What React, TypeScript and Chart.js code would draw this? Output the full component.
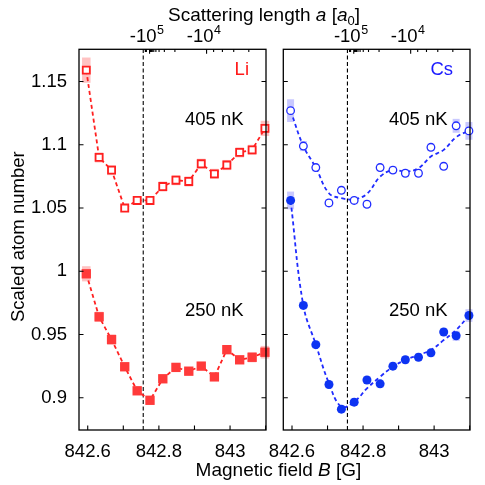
import React, { useEffect, useRef } from "react";
import { Chart, registerables } from "chart.js";

Chart.register(...registerables);

// ---------------- data ----------------
const fieldB = [842.596, 842.632, 842.667, 842.704, 842.739, 842.775, 842.811, 842.848, 842.884, 842.919, 842.956, 842.991, 843.027, 843.062, 843.098];

const li405 = [1.159, 1.090, 1.080, 1.050, 1.056, 1.056, 1.067, 1.072, 1.071, 1.085, 1.077, 1.084, 1.094, 1.096, 1.113];
const li405Err = [0.010, 0.004, 0.004, 0.003, 0.003, 0.003, 0.004, 0.004, 0.004, 0.004, 0.004, 0.004, 0.004, 0.004, 0.006];
const li250 = [0.998, 0.964, 0.946, 0.9245, 0.9055, 0.898, 0.915, 0.924, 0.921, 0.925, 0.9165, 0.938, 0.930, 0.932, 0.936];
const li250Err = [0.006, 0.004, 0.004, 0.003, 0.003, 0.003, 0.003, 0.003, 0.003, 0.003, 0.003, 0.003, 0.003, 0.004, 0.005];

const cs405 = [1.127, 1.099, 1.082, 1.054, 1.064, 1.056, 1.053, 1.082, 1.080, 1.0775, 1.0775, 1.098, 1.083, 1.115, 1.111];
const cs405Err = [0.009, 0.004, 0.003, 0.003, 0.003, 0.003, 0.003, 0.003, 0.003, 0.003, 0.003, 0.003, 0.003, 0.0055, 0.007];
const cs250 = [1.056, 0.973, 0.942, 0.9105, 0.891, 0.8965, 0.914, 0.911, 0.925, 0.930, 0.932, 0.9355, 0.952, 0.949, 0.965];
const cs250Err = [0.007, 0.003, 0.003, 0.003, 0.003, 0.003, 0.003, 0.003, 0.003, 0.003, 0.003, 0.003, 0.003, 0.004, 0.005];

const cs405Fit = [1.127, 1.099, 1.082, 1.0617, 1.0578, 1.057, 1.0612, 1.0748, 1.0801, 1.0788, 1.0815, 1.0907, 1.096, 1.106, 1.1112];
const cs250Fit = [1.056, 0.9728, 0.9422, 0.9114, 0.8929, 0.8968, 0.9074, 0.9166, 0.9245, 0.9298, 0.9338, 0.9377, 0.9456, 0.9536, 0.9649];

const yTickValues = [0.9, 0.95, 1.0, 1.05, 1.1, 1.15];
const xTickValues = [842.6, 842.7, 842.8, 842.9, 843.0, 843.1];
const xTickLabels = ["842.6", "", "842.8", "", "843", ""];
const aMajorTicks = [-1e5, -1e4];
const aMajorExponents = ["5", "4"];
const aMinorTicks = [-3e5, -2e5, -9e4, -8e4, -7e4, -6e4, -5e4, -4e4, -3e4, -2e4, -9e3, -8e3, -7e3, -6e3];

const resonanceB = 842.756; // G
const aTimesDetuning = 1780; // |a|·(B−B0) in a0·G

// ---------------- layout constants ----------------
const FONT = "'Liberation Sans', Arial, Helvetica, sans-serif";
const X_MIN = 842.5755;
const X_MAX = 843.101;
const Y_MIN = 0.8745;
const Y_MAX = 1.1755;

const bFromA = (a: number) => resonanceB + aTimesDetuning / Math.abs(a);
const pts = (ys: number[]) => ys.map((y, i) => ({ x: fieldB[i], y }));

const errorBars = {
  id: "errorBars",
  beforeDatasetsDraw(chart: any) {
    const { ctx } = chart;
    const xs = chart.scales.x;
    const ys = chart.scales.y;
    chart.data.datasets.forEach((ds: any) => {
      if (!ds.errors) return;
      ctx.save();
      ctx.fillStyle = ds.errorColor;
      ds.data.forEach((p: any, i: number) => {
        const e = ds.errors[i];
        const px = xs.getPixelForValue(p.x);
        const t = ys.getPixelForValue(p.y + e);
        const b = ys.getPixelForValue(p.y - e);
        ctx.fillRect(px - ds.errorWidth / 2, t, ds.errorWidth, b - t);
      });
      ctx.restore();
    });
  },
};

const frame = {
  id: "frame",
  afterDraw(chart: any) {
    const { ctx, chartArea } = chart;
    const { left, right, top, bottom } = chartArea;
    const xs = chart.scales.x;
    const ys = chart.scales.y;
    const x2 = chart.scales.x2;
    ctx.save();
    ctx.strokeStyle = "#000";
    ctx.lineWidth = 1.3;
    ctx.strokeRect(left, top, right - left, bottom - top);
    ctx.lineWidth = 1.1;
    ctx.beginPath();
    xs.ticks.forEach((t: any) => {
      const px = xs.getPixelForValue(t.value);
      ctx.moveTo(px, bottom);
      ctx.lineTo(px, bottom - 4.5);
    });
    ys.ticks.forEach((t: any) => {
      const py = ys.getPixelForValue(t.value);
      ctx.moveTo(left, py);
      ctx.lineTo(left + 4.5, py);
      ctx.moveTo(right, py);
      ctx.lineTo(right - 4.5, py);
    });
    x2.ticks.forEach((t: any) => {
      const px = x2.getPixelForValue(t.value);
      const len = t.isMajor ? 4.5 : 2.8;
      ctx.moveTo(px, top);
      ctx.lineTo(px, top + len);
    });
    ctx.stroke();
    // top axis labels (-10^n)
    ctx.fillStyle = "#000";
    ctx.textBaseline = "alphabetic";
    ctx.textAlign = "left";
    x2.ticks.forEach((t: any) => {
      if (!t.isMajor) return;
      const px = x2.getPixelForValue(t.value);
      ctx.font = `18.5px ${FONT}`;
      const w1 = ctx.measureText("-10").width;
      ctx.font = `12.5px ${FONT}`;
      const w2 = ctx.measureText(t.exponent).width;
      const x0 = px - 3 - (w1 + w2) / 2;
      ctx.font = `18.5px ${FONT}`;
      ctx.fillText("-10", x0, top - 7);
      ctx.font = `12.5px ${FONT}`;
      ctx.fillText(t.exponent, x0 + w1 + 0.5, top - 15);
    });
    ctx.restore();
  },
};

function drawSegments(ctx: any, segs: any[], cx: number, y: number) {
  let total = 0;
  segs.forEach((s) => {
    ctx.font = s.font;
    total += ctx.measureText(s.t).width;
  });
  let x = cx - total / 2;
  segs.forEach((s) => {
    ctx.font = s.font;
    ctx.fillText(s.t, x, y + (s.dy || 0));
    x += ctx.measureText(s.t).width;
  });
}

const sharedTitles = {
  id: "sharedTitles",
  afterDraw(chart: any) {
    const { ctx } = chart;
    ctx.save();
    ctx.fillStyle = "#000";
    ctx.textAlign = "left";
    ctx.textBaseline = "alphabetic";
    const n = `19px ${FONT}`;
    const it = `italic 19px ${FONT}`;
    drawSegments(
      ctx,
      [
        { t: "Scattering length ", font: n },
        { t: "a", font: it },
        { t: " [", font: n },
        { t: "a", font: it },
        { t: "0", font: `13px ${FONT}`, dy: 4 },
        { t: "]", font: n },
      ],
      264,
      20.5
    );
    drawSegments(
      ctx,
      [
        { t: "Magnetic field ", font: n },
        { t: "B", font: it },
        { t: " [G]", font: n },
      ],
      278.5,
      476
    );
    ctx.translate(24, 236.7);
    ctx.rotate(-Math.PI / 2);
    ctx.textAlign = "center";
    ctx.font = `18.5px ${FONT}`;
    ctx.fillText("Scaled atom number", 0, 0);
    ctx.restore();
  },
};

function panelText(name: string, color: string) {
  return {
    id: "panelText" + name,
    afterDraw(chart: any) {
      const { ctx, chartArea } = chart;
      const r = chartArea.right;
      ctx.save();
      ctx.font = `18.5px ${FONT}`;
      ctx.textBaseline = "alphabetic";
      ctx.textAlign = "right";
      ctx.fillStyle = color;
      ctx.fillText(name, r - 17, 74.5);
      ctx.textAlign = "left";
      ctx.fillStyle = "#000";
      ctx.fillText("405 nK", r - 81, 125);
      ctx.fillText("250 nK", r - 81, 315.7);
      ctx.restore();
    },
  };
}

function makeConfig(panel: "Li" | "Cs"): any {
  const isLi = panel === "Li";
  const red = "#ff2020";
  const blue = "#1f2bff";
  const resonanceLine = {
    data: [
      { x: resonanceB, y: Y_MIN },
      { x: resonanceB, y: Y_MAX },
    ],
    showLine: true,
    borderColor: "#000",
    borderWidth: 1.1,
    borderDash: [4, 2.5],
    pointRadius: 0,
  };
  const datasets: any[] = isLi
    ? [
        {
          data: pts(li405),
          errors: li405Err,
          errorColor: "rgba(255,120,120,0.45)",
          errorWidth: 8.5,
          showLine: true,
          borderColor: red,
          borderWidth: 1.8,
          borderDash: [4, 3],
          tension: 0,
          pointStyle: "rect",
          pointRadius: 5,
          pointBorderWidth: 1.8,
          pointBorderColor: red,
          pointBackgroundColor: "#fff",
          clip: false,
        },
        {
          data: pts(li250),
          errors: li250Err,
          errorColor: "rgba(255,120,120,0.45)",
          errorWidth: 8.5,
          showLine: true,
          borderColor: red,
          borderWidth: 1.8,
          borderDash: [4, 3],
          tension: 0,
          pointStyle: "rect",
          pointRadius: 6.6,
          pointBorderWidth: 0,
          pointBackgroundColor: "#ff3a3a",
          clip: false,
        },
        resonanceLine,
      ]
    : [
        {
          data: pts(cs405),
          errors: cs405Err,
          errorColor: "rgba(120,120,255,0.4)",
          errorWidth: 7,
          showLine: false,
          pointStyle: "circle",
          pointRadius: 3.8,
          pointBorderWidth: 1.3,
          pointBorderColor: blue,
          pointBackgroundColor: "#fff",
          clip: false,
        },
        {
          data: pts(cs250),
          errors: cs250Err,
          errorColor: "rgba(120,120,255,0.4)",
          errorWidth: 7,
          showLine: false,
          pointStyle: "circle",
          pointRadius: 4.5,
          pointBorderWidth: 0,
          pointBackgroundColor: "#0d33f2",
          clip: false,
        },
        {
          data: pts(cs405Fit),
          showLine: true,
          borderColor: blue,
          borderWidth: 1.8,
          borderDash: [4, 3],
          tension: 0.4,
          pointRadius: 0,
          clip: false,
        },
        {
          data: pts(cs250Fit),
          showLine: true,
          borderColor: blue,
          borderWidth: 1.8,
          borderDash: [4, 3],
          tension: 0.4,
          pointRadius: 0,
          clip: false,
        },
        resonanceLine,
      ];

  return {
    type: "scatter",
    data: { datasets },
    options: {
      animation: false,
      responsive: false,
      devicePixelRatio: 1,
      events: [],
      layout: { padding: { left: 0, top: 0, bottom: 0, right: isLi ? 219 : 15 } },
      plugins: { legend: { display: false }, tooltip: { enabled: false }, title: { display: false } },
      scales: {
        x: {
          type: "linear",
          position: "bottom",
          min: X_MIN,
          max: X_MAX,
          afterBuildTicks: (s: any) => {
            s.ticks = xTickValues.map((v) => ({ value: v }));
          },
          afterFit: (s: any) => {
            s.height = 55;
          },
          ticks: {
            autoSkip: false,
            maxRotation: 0,
            minRotation: 0,
            padding: 3,
            color: "#000",
            font: { family: FONT, size: 18.5 },
            callback: (_v: any, i: number) => xTickLabels[i],
          },
          grid: { display: false },
          border: { display: false },
        },
        x2: {
          type: "linear",
          position: "top",
          min: X_MIN,
          max: X_MAX,
          afterBuildTicks: (s: any) => {
            const minor = aMinorTicks.map((a) => ({ value: bFromA(a), isMajor: false }));
            const major = aMajorTicks.map((a, i) => ({ value: bFromA(a), isMajor: true, exponent: aMajorExponents[i] }));
            s.ticks = [...minor, ...major].filter((t) => t.value > X_MIN && t.value < X_MAX);
          },
          afterFit: (s: any) => {
            s.height = 49.3;
          },
          ticks: { display: false },
          grid: { display: false },
          border: { display: false },
        },
        y: {
          type: "linear",
          position: "left",
          min: Y_MIN,
          max: Y_MAX,
          afterBuildTicks: (s: any) => {
            s.ticks = yTickValues.map((v) => ({ value: v }));
          },
          afterFit: (s: any) => {
            s.width = isLi ? 79 : 283.3;
          },
          ticks: {
            display: isLi,
            padding: 4,
            color: "#000",
            font: { family: FONT, size: 18.5 },
            callback: (v: any) => String(Number(Number(v).toFixed(2))),
          },
          grid: { display: false },
          border: { display: false },
        },
      },
    },
    plugins: isLi
      ? [errorBars, frame, sharedTitles, panelText("Li", "#ff1a1a")]
      : [errorBars, frame, panelText("Cs", "#1a1aff")],
  };
}

export default function App() {
  const leftRef = useRef<HTMLCanvasElement>(null);
  const rightRef = useRef<HTMLCanvasElement>(null);
  useEffect(() => {
    const a = new Chart(leftRef.current as HTMLCanvasElement, makeConfig("Li"));
    const b = new Chart(rightRef.current as HTMLCanvasElement, makeConfig("Cs"));
    return () => {
      a.destroy();
      b.destroy();
    };
  }, []);
  return (
    <div style={{ position: "fixed", left: 0, top: 0, width: 485, height: 485, background: "#fff" }}>
      <canvas ref={leftRef} width={485} height={485} style={{ position: "absolute", left: 0, top: 0 }} />
      <canvas ref={rightRef} width={485} height={485} style={{ position: "absolute", left: 0, top: 0 }} />
    </div>
  );
}
